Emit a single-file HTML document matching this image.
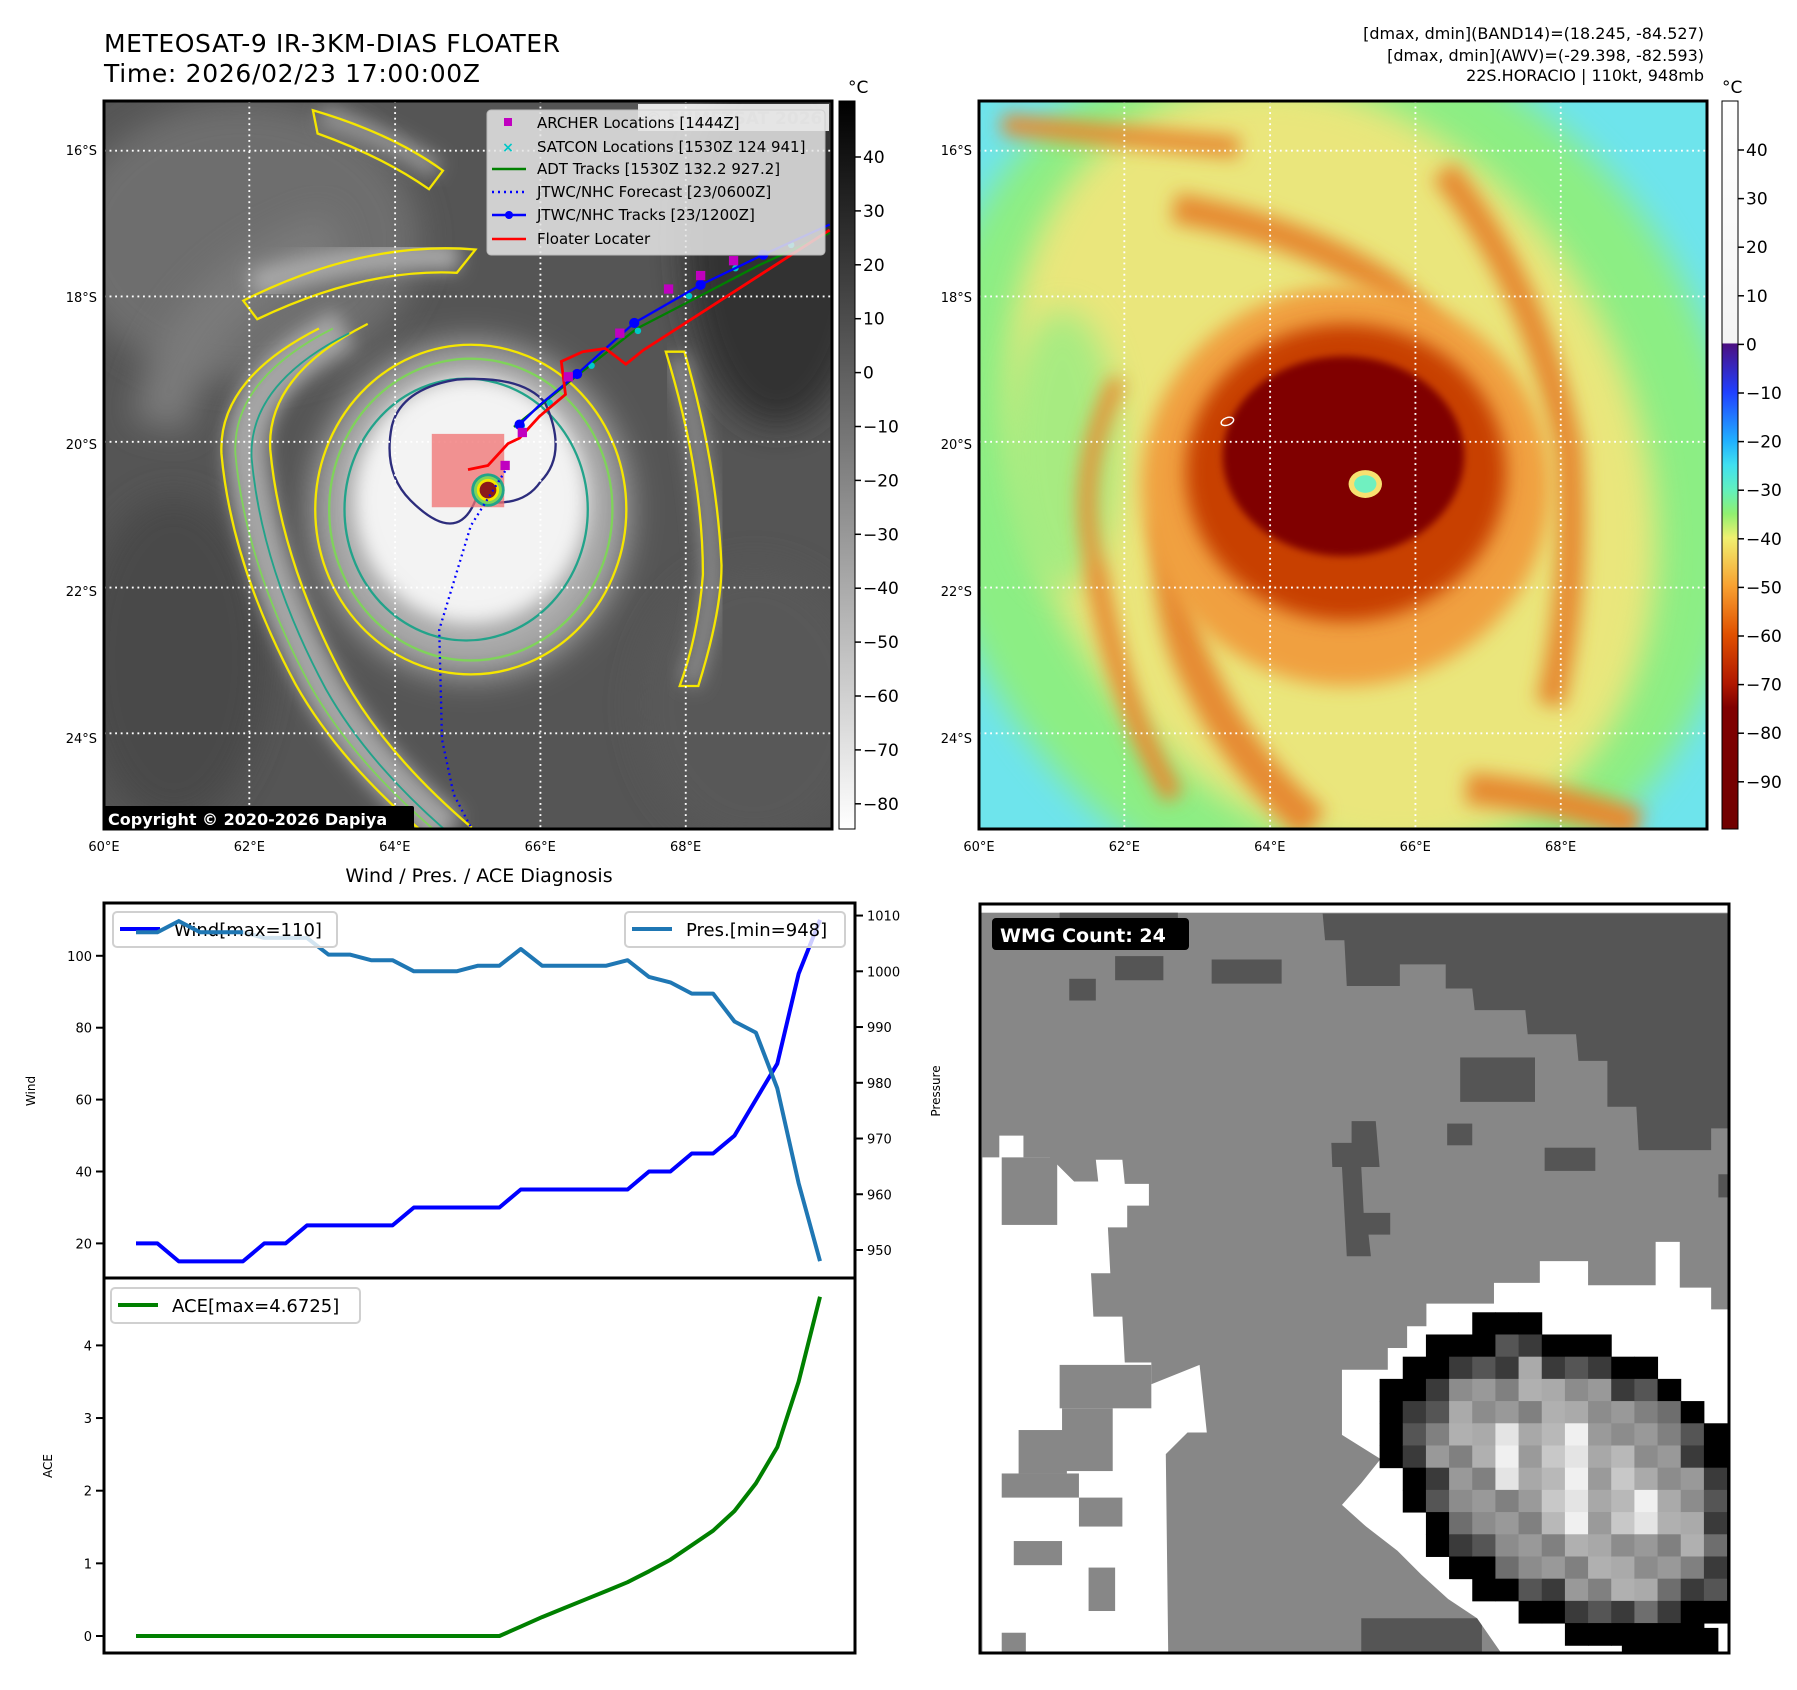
<!DOCTYPE html>
<html><head><meta charset="utf-8">
<style>
html,body{margin:0;padding:0;background:#fff;}
svg{display:block;font-family:"DejaVu Sans","Liberation Sans",sans-serif;}
</style></head>
<body>
<svg id="root" width="1797" height="1690" viewBox="0 0 1797 1690" xmlns="http://www.w3.org/2000/svg">
<defs>
  <filter id="b8" x="-20%" y="-20%" width="140%" height="140%"><feGaussianBlur stdDeviation="8"/></filter>
  <filter id="b20" x="-30%" y="-30%" width="160%" height="160%"><feGaussianBlur stdDeviation="20"/></filter>
  <filter id="b35" x="-30%" y="-30%" width="160%" height="160%"><feGaussianBlur stdDeviation="35"/></filter>
  <linearGradient id="gray-cb" x1="0" y1="0" x2="0" y2="1">
    <stop offset="0" stop-color="#000"/><stop offset="1" stop-color="#fff"/>
  </linearGradient>
  <linearGradient id="awv-cb" x1="0" y1="0" x2="0" y2="1">
    <stop offset="0" stop-color="#ffffff"/><stop offset="0.332" stop-color="#f4f4f4"/>
    <stop offset="0.334" stop-color="#4b0f82"/><stop offset="0.4" stop-color="#2040ff"/>
    <stop offset="0.467" stop-color="#20b0ff"/><stop offset="0.5" stop-color="#40e0f0"/>
    <stop offset="0.533" stop-color="#60f0c0"/><stop offset="0.567" stop-color="#90f070"/>
    <stop offset="0.6" stop-color="#f0f070"/><stop offset="0.667" stop-color="#f8a030"/>
    <stop offset="0.733" stop-color="#e05000"/><stop offset="0.8" stop-color="#b01800"/>
    <stop offset="0.833" stop-color="#800000"/><stop offset="1" stop-color="#700000"/>
  </linearGradient>
  <clipPath id="mapclip"><rect x="0" y="0" width="1568" height="1568"/></clipPath>
  <clipPath id="wmgclip"><rect x="0" y="0" width="1552" height="1552"/></clipPath>
</defs>

<text x="104" y="52" font-size="25" textLength="456">METEOSAT-9 IR-3KM-DIAS FLOATER</text>
<text x="104" y="82" font-size="25" textLength="376">Time: 2026/02/23 17:00:00Z</text>
<g font-size="16" text-anchor="end">
  <text x="1704" y="39">[dmax, dmin](BAND14)=(18.245, -84.527)</text>
  <text x="1704" y="61">[dmax, dmin](AWV)=(-29.398, -82.593)</text>
  <text x="1704" y="81">22S.HORACIO | 110kt, 948mb</text>
</g>

<!-- LEFT IR MAP -->
<svg x="104" y="101" width="728" height="728" viewBox="0 0 1568 1568">
 <g clip-path="url(#mapclip)">
  <rect x="0" y="0" width="1568" height="1568" fill="#555"/>
  <ellipse cx="300" cy="300" rx="380" ry="300" fill="#6e6e6e" filter="url(#b35)"/>
  <ellipse cx="1450" cy="300" rx="200" ry="400" fill="#333" filter="url(#b35)"/>
  <ellipse cx="1400" cy="1300" rx="250" ry="300" fill="#585858" filter="url(#b35)"/>
  <ellipse cx="150" cy="1200" rx="200" ry="350" fill="#4a4a4a" filter="url(#b35)"/>
  <path d="M120 700 Q180 400 500 300" stroke="#7a7a7a" stroke-width="120" fill="none" filter="url(#b35)"/>
  <path d="M320 396 Q560 320 765 337" stroke="#a8a8a8" stroke-width="60" fill="none" filter="url(#b20)"/>
  <path d="M468 30 Q620 80 716 148" stroke="#9a9a9a" stroke-width="40" fill="none" filter="url(#b20)"/>
  <path d="M518 490 Q300 600 308 760 Q330 1000 468 1257 Q560 1420 742 1575" stroke="#a5a5a5" stroke-width="90" fill="none" filter="url(#b20)"/>
  <path d="M1235 549 Q1300 800 1309 1021 Q1300 1150 1260 1257" stroke="#8a8a8a" stroke-width="45" fill="none" filter="url(#b20)"/>
  <ellipse cx="790" cy="880" rx="340" ry="360" fill="#aaaaaa" filter="url(#b35)"/>
  <ellipse cx="790" cy="860" rx="250" ry="265" fill="#f3f3f3" filter="url(#b20)"/>
  <path d="M518 490 Q300 600 308 760 Q330 1000 468 1257 Q560 1420 742 1575" stroke="#f5e600" stroke-width="5" fill="none" transform="translate(-55,0)"/>
  <path d="M518 490 Q300 600 308 760 Q330 1000 468 1257 Q560 1420 742 1575" stroke="#f5e600" stroke-width="5" fill="none" transform="translate(50,-10)"/>
  <path d="M518 490 Q300 600 308 760 Q330 1000 468 1257 Q560 1420 742 1575" stroke="#7fd35a" stroke-width="4" fill="none" transform="translate(-25,0)"/>
  <path d="M518 490 Q300 600 308 760 Q330 1000 468 1257 Q560 1420 742 1575" stroke="#22a38a" stroke-width="4" fill="none" transform="translate(10,10)"/>
  <path d="M300 430 Q560 300 800 320 L760 370 Q560 360 330 470 Z" stroke="#f5e600" stroke-width="5" fill="none"/>
  <path d="M450 20 Q620 70 730 150 L700 190 Q600 120 460 70 Z" stroke="#f5e600" stroke-width="5" fill="none"/>
  <path d="M1210 540 Q1290 800 1290 1020 Q1280 1150 1240 1260 L1280 1260 Q1330 1100 1330 1000 Q1320 780 1250 540 Z" stroke="#f5e600" stroke-width="5" fill="none"/>
  <ellipse cx="790" cy="880" rx="335" ry="355" stroke="#f5e600" stroke-width="5" fill="none"/>
  <ellipse cx="790" cy="880" rx="305" ry="325" stroke="#7fd35a" stroke-width="5" fill="none"/>
  <ellipse cx="780" cy="880" rx="262" ry="282" stroke="#22a38a" stroke-width="5" fill="none"/>
  <path d="M620 700 Q640 620 760 600 Q900 590 950 650 Q1000 760 940 820 Q900 880 800 860 Q760 960 660 860 Q600 800 620 700 Z" stroke="#2c2c7c" stroke-width="5" fill="none"/>
  <g stroke="#fff" stroke-width="4" stroke-dasharray="4 8">
   <line x1="313" y1="0" x2="313" y2="1568"/><line x1="627" y1="0" x2="627" y2="1568"/>
   <line x1="940" y1="0" x2="940" y2="1568"/><line x1="1253" y1="0" x2="1253" y2="1568"/>
   <line x1="0" y1="107" x2="1568" y2="107"/><line x1="0" y1="421" x2="1568" y2="421"/>
   <line x1="0" y1="734" x2="1568" y2="734"/><line x1="0" y1="1048" x2="1568" y2="1048"/>
   <line x1="0" y1="1362" x2="1568" y2="1362"/>
  </g>
  <rect x="706" y="717" width="156" height="158" fill="#f07070" opacity="0.75"/>
  <circle cx="827" cy="838" r="36" fill="#22a38a"/>
  <circle cx="827" cy="838" r="30" fill="#7fd35a"/>
  <circle cx="827" cy="838" r="24" fill="#f5e600"/>
  <circle cx="827" cy="838" r="18" fill="#8b1a1a"/>
  <polyline points="864,797 790,915 722,1139 728,1375 753,1493 802,1587" stroke="#0000ff" stroke-width="5" stroke-dasharray="4 8" fill="none"/>
  <polyline points="883,702 1013,596 1148,490 1297,413 1408,355 1563,284" stroke="#008000" stroke-width="5" fill="none"/>
  <g fill="#00c8c8">
   <circle cx="900" cy="700" r="7"/><circle cx="960" cy="650" r="7"/><circle cx="1050" cy="570" r="7"/><circle cx="1150" cy="495" r="7"/><circle cx="1260" cy="420" r="7"/><circle cx="1360" cy="360" r="7"/><circle cx="1480" cy="310" r="7"/>
  </g>
  <polyline points="895,697 938,655 1019,588 1142,478 1285,396 1420,331 1563,266" stroke="#0000ff" stroke-width="5" fill="none"/>
  <g fill="#0000ff"><circle cx="895" cy="697" r="11"/><circle cx="1019" cy="588" r="11"/><circle cx="1142" cy="478" r="11"/><circle cx="1285" cy="396" r="11"/><circle cx="1420" cy="331" r="11"/></g>
  <polyline points="784,794 827,785 870,738 895,726 938,679 994,632 985,561 1031,540 1080,533 1124,567 1161,537 1563,278" stroke="#ff0000" stroke-width="6" fill="none"/>
  <g fill="#c000c0">
   <rect x="854" y="775" width="20" height="20"/><rect x="891" y="704" width="20" height="20"/><rect x="990" y="584" width="20" height="20"/><rect x="1101" y="490" width="20" height="20"/><rect x="1206" y="395" width="20" height="20"/><rect x="1275" y="366" width="20" height="20"/><rect x="1346" y="334" width="20" height="20"/>
  </g>
 </g>
</svg>
<rect x="104" y="101" width="728" height="728" fill="none" stroke="#000" stroke-width="3"/>
<rect x="638" y="104" width="191" height="27" fill="#fff" opacity="0.85"/>
<text x="645" y="124" font-size="17" font-weight="bold" fill="#c8c8c8">© EUMETSAT 2026</text>
<g>
 <rect x="487" y="110" width="338" height="145" rx="4" fill="#e6e6e6" opacity="0.85" stroke="#ccc"/>
 <g font-size="15" fill="#000">
  <rect x="504" y="118" width="8" height="8" fill="#c000c0"/><text x="537" y="128">ARCHER Locations [1444Z]</text>
  <text x="508" y="152" fill="#00c8c8" font-size="14" font-weight="bold" text-anchor="middle">×</text><text x="537" y="152">SATCON Locations [1530Z 124 941]</text>
  <line x1="492" y1="169" x2="526" y2="169" stroke="#008000" stroke-width="2.5"/><text x="537" y="174">ADT Tracks [1530Z 132.2 927.2]</text>
  <line x1="492" y1="192" x2="526" y2="192" stroke="#0000ff" stroke-width="2.5" stroke-dasharray="2 4"/><text x="537" y="197">JTWC/NHC Forecast [23/0600Z]</text>
  <line x1="492" y1="215" x2="526" y2="215" stroke="#0000ff" stroke-width="2.5"/><circle cx="509" cy="215" r="4" fill="#0000ff"/><text x="537" y="220">JTWC/NHC Tracks [23/1200Z]</text>
  <line x1="492" y1="239" x2="526" y2="239" stroke="#ff0000" stroke-width="2.5"/><text x="537" y="244">Floater Locater</text>
 </g>
</g>
<rect x="104" y="806" width="310" height="24" fill="#000" rx="2"/>
<text x="108" y="825" font-size="16" font-weight="bold" fill="#fff">Copyright © 2020-2026 Dapiya</text>

<rect x="839" y="101" width="16" height="728" fill="url(#gray-cb)" stroke="#000" stroke-width="1"/>
<text x="848" y="93" font-size="17">°C</text>
<g id="cb1ticks" font-size="17"></g>

<!-- RIGHT AWV MAP -->
<svg x="979" y="101" width="728" height="728" viewBox="0 0 1568 1568">
 <g clip-path="url(#mapclip)">
  <rect x="0" y="0" width="1568" height="1568" fill="#6ee4ec"/>
  <ellipse cx="760" cy="800" rx="860" ry="980" transform="rotate(-24 760 800)" fill="#8cee84" filter="url(#b35)"/>
  <ellipse cx="760" cy="790" rx="660" ry="860" transform="rotate(-25 760 790)" fill="#f2e67c" filter="url(#b35)" opacity="0.92"/>
  <ellipse cx="180" cy="750" rx="120" ry="300" fill="#8cee84" filter="url(#b35)" opacity="0.7"/>
  <g fill="none" stroke="#e68a30" filter="url(#b20)">
   <path d="M420 900 Q400 1100 480 1250 Q560 1420 720 1560" stroke-width="80"/>
   <path d="M250 1000 Q300 1300 420 1500" stroke-width="45"/>
   <path d="M420 230 Q700 280 880 400 Q980 480 1010 620" stroke-width="65"/>
   <path d="M1000 150 Q1200 400 1270 750 Q1290 1050 1230 1300" stroke-width="60"/>
   <path d="M1050 1480 Q1250 1500 1420 1560" stroke-width="70"/>
   <path d="M50 50 Q350 80 560 100" stroke-width="45"/>
   <path d="M300 600 Q200 800 250 1000" stroke-width="35"/>
  </g>
  <ellipse cx="790" cy="830" rx="440" ry="430" fill="#f0a040" filter="url(#b20)"/>
  <ellipse cx="790" cy="800" rx="345" ry="320" fill="#c84000" filter="url(#b20)"/>
  <ellipse cx="785" cy="765" rx="260" ry="215" fill="#800000" filter="url(#b8)"/>
  <ellipse cx="832" cy="825" rx="36" ry="30" fill="#f8e070"/>
  <ellipse cx="832" cy="825" rx="24" ry="19" fill="#70f0c0"/>
  <ellipse cx="535" cy="690" rx="14" ry="8" fill="none" stroke="#fff" stroke-width="3" transform="rotate(-20 535 690)"/>
  <g stroke="#fff" stroke-width="4" stroke-dasharray="4 8">
   <line x1="313" y1="0" x2="313" y2="1568"/><line x1="627" y1="0" x2="627" y2="1568"/>
   <line x1="940" y1="0" x2="940" y2="1568"/><line x1="1253" y1="0" x2="1253" y2="1568"/>
   <line x1="0" y1="107" x2="1568" y2="107"/><line x1="0" y1="421" x2="1568" y2="421"/>
   <line x1="0" y1="734" x2="1568" y2="734"/><line x1="0" y1="1048" x2="1568" y2="1048"/>
   <line x1="0" y1="1362" x2="1568" y2="1362"/>
  </g>
 </g>
</svg>
<rect x="979" y="101" width="728" height="728" fill="none" stroke="#000" stroke-width="3"/>
<rect x="1722" y="101" width="16" height="728" fill="url(#awv-cb)" stroke="#000" stroke-width="1"/>
<text x="1722" y="93" font-size="17">°C</text>
<g id="cb2ticks" font-size="17"></g>

<g id="maplabels" font-size="13"></g>

<text x="479" y="882" font-size="19" text-anchor="middle">Wind / Pres. / ACE Diagnosis</text>
<g id="chart"></g>
<rect x="104" y="903" width="751" height="750" fill="none" stroke="#000" stroke-width="3"/>
<line x1="104" y1="1278" x2="855" y2="1278" stroke="#000" stroke-width="3"/>
<text transform="translate(35,1091) rotate(-90)" font-size="12" text-anchor="middle">Wind</text>
<text transform="translate(940,1091) rotate(-90)" font-size="12" text-anchor="middle">Pressure</text>
<text transform="translate(52,1466) rotate(-90)" font-size="12" text-anchor="middle">ACE</text>

<!-- BOTTOM RIGHT WMG -->
<svg x="980" y="904" width="749" height="749" viewBox="0 0 1552 1552">
 <g clip-path="url(#wmgclip)" id="wmg">
  <rect x="0" y="0" width="1552" height="1552" fill="#878787"/>
  <rect x="0" y="0" width="1552" height="18" fill="#fff"/>
  <g fill="#555">
   <polygon points="710,20 1552,20 1552,465 1515,465 1515,510 1365,510 1360,420 1300,420 1300,325 1240,325 1235,270 1135,270 1130,220 1025,220 1020,175 965,175 965,125 870,125 870,170 760,170 755,75 715,75"/>
   <rect x="165" y="18" width="245" height="12"/>
   <rect x="280" y="108" width="100" height="50"/><rect x="480" y="115" width="145" height="50"/>
   <rect x="185" y="155" width="55" height="45"/><rect x="995" y="318" width="155" height="92"/>
   <rect x="1170" y="505" width="105" height="48"/><rect x="968" y="455" width="52" height="45"/>
   <polygon points="770,450 820,450 828,545 790,545 795,640 850,640 850,685 805,685 810,730 760,730 750,545 730,545 728,495 770,495"/>
   <rect x="1530" y="560" width="22" height="48"/><rect x="790" y="1480" width="250" height="72"/>
  </g>
  <g fill="#fff">
   <polygon points="5,525 40,525 40,480 90,480 90,525 145,525 195,575 245,575 240,530 295,530 300,580 350,580 350,625 305,625 305,670 265,670 270,765 230,765 235,855 295,855 300,950 355,950 355,995 455,955 470,1095 430,1095 385,1140 390,1552 5,1552"/>
   <polygon points="750,965 845,965 845,920 885,920 885,875 925,875 925,828 1065,828 1065,785 1160,785 1160,740 1260,740 1260,790 1400,790 1400,700 1450,700 1450,795 1515,795 1515,840 1552,840 1552,1552 1080,1552 1030,1480 970,1440 915,1390 865,1340 800,1290 750,1245 790,1200 830,1150 750,1100"/>
  </g>
  <g fill="#878787">
   <rect x="45" y="525" width="115" height="140"/><rect x="165" y="955" width="190" height="90"/>
   <rect x="170" y="1045" width="105" height="130"/><rect x="45" y="1180" width="160" height="50"/>
   <rect x="80" y="1090" width="100" height="90"/><rect x="70" y="1320" width="100" height="50"/>
   <rect x="225" y="1375" width="55" height="90"/><rect x="45" y="1510" width="50" height="42"/>
   <rect x="205" y="1230" width="90" height="60"/>
  </g>
  <g id="eyecells"></g>
  <rect x="1330" y="1500" width="200" height="52" fill="#000"/>
 </g>
</svg>
<rect x="980" y="904" width="749" height="749" fill="none" stroke="#000" stroke-width="3"/>
<rect x="992" y="918" width="197" height="32" rx="4" fill="#000"/>
<text x="1000" y="942" font-size="19" font-weight="bold" fill="#fff">WMG Count: 24</text>
</svg>

<script>
const windVals = [20,20,15,15,15,15,20,20,25,25,25,25,25,30,30,30,30,30,35,35,35,35,35,35,40,40,45,45,50,60,70,95,110];
const presVals = [1007,1007,1009,1007,1007,1007,1006,1006,1006,1003,1003,1002,1002,1000,1000,1000,1001,1001,1004,1001,1001,1001,1001,1002,999,998,996,996,991,989,979,962,948];
const aceVals = [0,0,0,0,0,0,0,0,0,0,0,0,0,0,0,0,0,0,0.13,0.26,0.38,0.5,0.62,0.74,0.89,1.05,1.25,1.45,1.72,2.1,2.6,3.5,4.67];
const windTicks = [20,40,60,80,100];
const presTicks = [950,960,970,980,990,1000,1010];
const aceTicks = [0,1,2,3,4];
const irCbTicks = [40,30,20,10,0,-10,-20,-30,-40,-50,-60,-70,-80];
const awvCbTicks = [40,30,20,10,0,-10,-20,-30,-40,-50,-60,-70,-80,-90];
const latTicks = [16,18,20,22,24];
const lonTicks = [60,62,64,66,68];

const NS = "http://www.w3.org/2000/svg";
function mk(tag, attrs, parent){const e=document.createElementNS(NS,tag);for(const k in attrs)e.setAttribute(k,attrs[k]);parent.appendChild(e);return e;}
const xIdx = (i,n) => 136 + i*(820-136)/(n-1);
const yWind = v => 1243.4 - (v-20)*3.595;
const yPres = p => 1250 - (p-950)*5.574;
const yAce = a => 1636 - a*72.65;
const chart = document.getElementById('chart');

function line(vals, yf, color, name){
  const pts = vals.map((v,i)=>xIdx(i,vals.length).toFixed(1)+','+yf(v).toFixed(1)).join(' ');
  const pl = mk('polyline',{points:pts,fill:'none',stroke:color,'stroke-width':4,'stroke-linejoin':'round'},chart);
  
  
}
line(windVals, yWind, '#0000ff', 'wind-line');
line(presVals, yPres, '#1f77b4', 'pressure-line');
line(aceVals, yAce, '#008000', 'ace-line');

windTicks.forEach(v=>{
  const y=yWind(v);
  mk('line',{x1:96,y1:y,x2:104,y2:y,stroke:'#000','stroke-width':2},chart);
  const t=mk('text',{x:92,y:y+5,'font-size':13,'text-anchor':'end'},chart); t.textContent=v;
  
  
});
presTicks.forEach(v=>{
  const y=yPres(v);
  mk('line',{x1:855,y1:y,x2:863,y2:y,stroke:'#000','stroke-width':2},chart);
  const t=mk('text',{x:867,y:y+5,'font-size':13},chart); t.textContent=v;
  
  
});
aceTicks.forEach(v=>{
  const y=yAce(v);
  mk('line',{x1:96,y1:y,x2:104,y2:y,stroke:'#000','stroke-width':2},chart);
  const t=mk('text',{x:92,y:y+5,'font-size':13,'text-anchor':'end'},chart); t.textContent=v;
  
  
});
function legend(x,y,w,color,label,name){
  const g=mk('g',{},chart);
  
  
  mk('rect',{x:x,y:y,width:w,height:35,rx:4,fill:'#fff','fill-opacity':0.8,stroke:'#d0d0d0','stroke-width':2},g);
  mk('line',{x1:x+7,y1:y+17,x2:x+47,y2:y+17,stroke:color,'stroke-width':4},g);
  const t=mk('text',{x:x+61,y:y+24,'font-size':18},g); t.textContent=label;
}
legend(113,912,224,'#0000ff','Wind[max=110]','wind-legend');
legend(625,912,220,'#1f77b4','Pres.[min=948]','pressure-legend');
legend(111,1288,249,'#008000','ACE[max=4.6725]','ace-legend');
(function(){const pts=presVals.slice(0,6).map((v,i)=>xIdx(i,presVals.length).toFixed(1)+','+yPres(v).toFixed(1)).join(' ');
 const pl=mk('polyline',{points:pts,fill:'none',stroke:'#1f77b4','stroke-width':4},chart);
 
 })();

const cb1=document.getElementById('cb1ticks');
irCbTicks.forEach(v=>{
  const y=157+(40-v)*5.39;
  mk('line',{x1:855,y1:y,x2:861,y2:y,stroke:'#000','stroke-width':1.5},cb1);
  const t=mk('text',{x:863,y:y+6},cb1); t.textContent=(v<0?'\u2212'+(-v):v);
  
  
});
const cb2=document.getElementById('cb2ticks');
awvCbTicks.forEach(v=>{
  const y=150+(40-v)*4.86;
  mk('line',{x1:1738,y1:y,x2:1744,y2:y,stroke:'#000','stroke-width':1.5},cb2);
  const t=mk('text',{x:1746,y:y+6},cb2); t.textContent=(v<0?'\u2212'+(-v):v);
  
  
});
const ml=document.getElementById('maplabels');
[0,875].forEach(off=>{
  latTicks.forEach(l=>{
    const y=150+(l-16)*73.5;
    const t=mk('text',{x:97+off,y:y+5,'text-anchor':'end'},ml); t.textContent=l+'°S';
    
    
  });
  lonTicks.forEach(l=>{
    const x=104+(l-60)*72.7;
    const t=mk('text',{x:x+off,y:851,'text-anchor':'middle'},ml); t.textContent=l+'°E';
    
    
  });
});
const ec=document.getElementById('eyecells');
const cx=1230, cy=1200, rx=430, ry=290, ang=32*Math.PI/180;
const shadesIn=['#c8c8c8','#e4e4e4','#a8a8a8','#b8b8b8','#f0f0f0','#9a9a9a'];
const shadesMid=['#999','#aaa','#808080','#8c8c8c','#b0b0b0'];
const shadesRing=['#3a3a3a','#6e6e6e','#3a3a3a','#555'];
for(let gx=780; gx<1552; gx+=48){
  for(let gy=800; gy<1552; gy+=46){
    const px=gx+24-cx, py=gy+23-cy;
    const u=(px*Math.cos(ang)+py*Math.sin(ang))/rx, w=(-px*Math.sin(ang)+py*Math.cos(ang))/ry;
    const r=Math.sqrt(u*u+w*w);
    if(r>1) continue;
    const k=(Math.floor(gx/48)*7+Math.floor(gy/46)*3);
    let f;
    if(r<0.4) f=shadesIn[k%shadesIn.length];
    else if(r<0.72) f=shadesMid[k%shadesMid.length];
    else if(r<0.86) f=shadesRing[k%shadesRing.length];
    else f='#000';
    mk('rect',{x:gx,y:gy,width:49,height:47,fill:f},ec);
  }
}
</script>
</body></html>
